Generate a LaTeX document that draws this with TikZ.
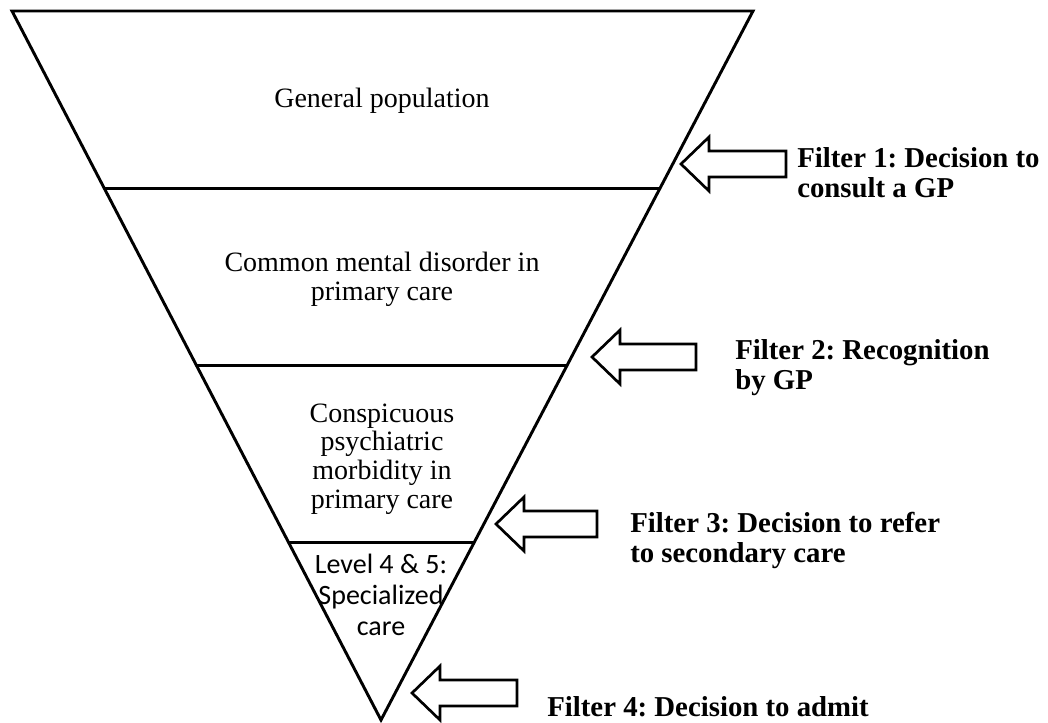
\documentclass[tikz,border=0pt]{standalone}
\usepackage{fontspec}
\setmainfont{Liberation Serif}
\newfontfamily\levelfont{Carlito}
\usetikzlibrary{calc}
\frenchspacing

\begin{document}
\begin{tikzpicture}[x=0.75pt,y=-0.75pt,
    funnel/.style={line width=2.2pt,line join=miter},
    tier/.style={inner sep=0pt,align=center,anchor=base,font=\fontsize{21}{21.4}\selectfont},
    filter/.style={inner sep=0pt,align=left,anchor=base west,font=\bfseries\fontsize{21.6}{22.5}\selectfont},
    blockarrow/.style={line width=2pt,line join=miter}]
\useasboundingbox (0,0) rectangle (1048,722);
% funnel outline and tiers
\coordinate (tl) at (12,11);
\coordinate (tr) at (753,11);
\coordinate (apex) at (381,720);
\draw[funnel] (tl) -- (tr) -- (apex) -- cycle;
\foreach \t in {0.25,0.5,0.75}
  \draw[funnel] ($(tl)!\t!(apex)$) -- ($(tr)!\t!(apex)$);
% labels sit on the baseline of their last line
\node[tier] (pop) at (382,107) {General population};
\node[tier] (cmd) at (382,300) {Common mental disorder in\\primary care};
\node[tier] (cpm) at (382,508) {Conspicuous\\psychiatric\\morbidity in\\primary care};
\node[tier,font=\levelfont\fontsize{21}{23.2}\selectfont] (spec) at (381,635) {Level 4 \& 5:\\Specialized\\care};
% filter arrows: tip x / centre y / tail x
\foreach \tx/\ty/\rx in {681/164/786, 592/357/696, 496/524/597, 412/693/517}
  \draw[blockarrow] (\tx,\ty) -- (\tx+28,\ty-27) -- (\tx+28,\ty-13) -- (\rx,\ty-13)
    -- (\rx,\ty+13) -- (\tx+28,\ty+13) -- (\tx+28,\ty+27) -- cycle;
\node[filter] (f1) at (797,197) {Filter 1: Decision to\\consult a GP};
\node[filter] (f2) at (735,389) {Filter 2: Recognition\\by GP};
\node[filter] (f3) at (630,562) {Filter 3: Decision to refer\\to secondary care};
\node[filter] (f4) at (547,716) {Filter 4: Decision to admit};
\end{tikzpicture}
\end{document}
